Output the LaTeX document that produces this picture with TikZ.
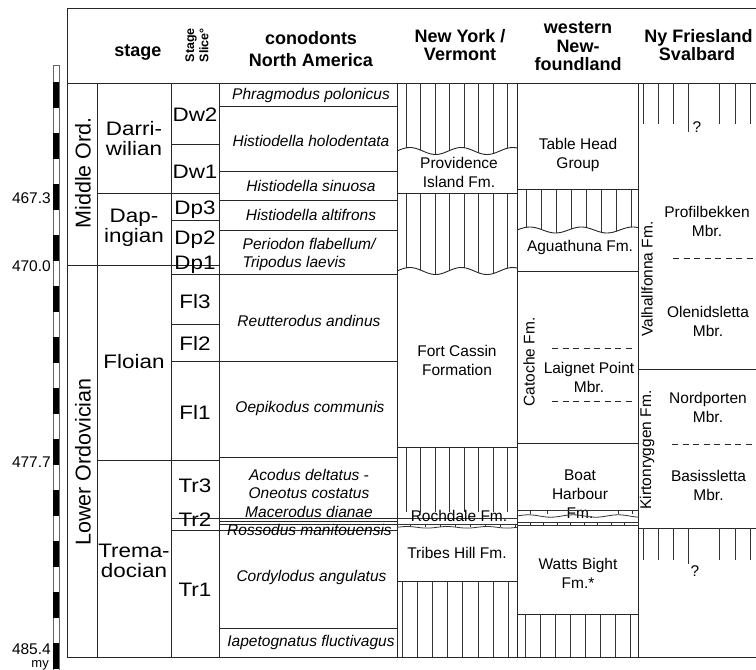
\documentclass[tikz,border=0pt]{standalone}
\usepackage{fontspec}
\setmainfont{Liberation Sans}
\newfontfamily\widefont[FakeStretch=1.15]{Liberation Sans}
\begin{document}
\begin{tikzpicture}[x=1pt,y=-1pt,
  ln/.style={line width=0.9pt, draw=black!85},
  hat/.style={line width=0.8pt, draw=black!80},
  dsh/.style={line width=0.8pt, draw=black!85, dash pattern=on 6pt off 4.5pt},
  hdr/.style={font=\bfseries\fontsize{18}{20}\selectfont, inner sep=0pt, anchor=base},
  hsl/.style={font=\bfseries\fontsize{12.5}{13}\selectfont, inner sep=0pt, rotate=90, anchor=west},
  fmt/.style={font=\fontsize{15.5}{19}\selectfont, align=center, inner sep=0pt},
  fmr/.style={font=\fontsize{15.5}{16}\selectfont, inner sep=0pt, rotate=90},
  con/.style={font=\itshape\fontsize{15.5}{18}\selectfont, align=center, inner sep=0pt},
  stg/.style={font=\widefont\fontsize{19.5}{20}\selectfont, align=center, inner sep=0pt},
  era/.style={font=\fontsize{21.5}{22}\selectfont, inner sep=0pt, rotate=90},
  age/.style={font=\fontsize{15.5}{16}\selectfont, inner sep=0pt, anchor=east},
]
\useasboundingbox (0,0) rectangle (756,670);

% ---------- scale bar ----------
\draw[line width=0.6pt, draw=black!60, fill=white] (53,65) rectangle (59,672);
\foreach \k in {0,...,11} \fill[black] (53,{82+51*\k}) rectangle (59,{107.5+51*\k});
\node[age] (a1) at (51,198.5) {467.3};
\node[age] (a2) at (51,266) {470.0};
\node[age] (a3) at (51,462.5) {477.7};
\node[age] (a4) at (51,649.5) {485.4};
\node[age, font=\fontsize{13}{13}\selectfont] (a5) at (49,665) {my};

% ---------- frame ----------
\draw[ln] (756,8) -- (67,8) -- (67,657) -- (756,657);
\draw[ln] (67,83) -- (756,83);
\foreach \xx in {97,171,219,397,517,638} \draw[ln] (\xx,83) -- (\xx,657);

% ---------- header ----------
\node[hdr] (hst) at (138,56.5) {stage};
\node[hsl] (hsl1) at (191,62.5) {Stage};
\node[hsl] (hsl2) at (204,62.5) {Slice°};
\node[hdr] (hc1) at (311,44) {conodonts};
\node[hdr] (hc2) at (311,66) {North America};
\node[hdr] (hn1) at (460,42.7) {New York /};
\node[hdr] (hn2) at (460,60.7) {Vermont};
\node[hdr] (hw1) at (578,33.3) {western};
\node[hdr] (hw2) at (578,52.5) {New-};
\node[hdr] (hw3) at (578,70) {foundland};
\node[hdr] (hs1) at (698.5,42.7) {Ny Friesland};
\node[hdr] (hs2) at (697,60.7) {Svalbard};

% ---------- era / stage / slice ----------
\draw[ln] (67,265) -- (219,265);
\draw[ln] (97,193) -- (219,193);
\draw[ln] (97,460) -- (219,460);
\draw[ln] (171,144) -- (219,144);
\draw[ln] (171,220) -- (219,220);
\draw[ln] (171,274) -- (397,274);
\draw[ln] (171,324) -- (219,324);
\draw[ln] (171,361) -- (397,361);
\draw[ln] (171,518) -- (219,518);
\draw[ln] (171,530) -- (219,530);

\node[era] (eM) at (83,173) {Middle Ord.};
\node[era] (eL) at (83,462) {Lower Ordovician};

\node[stg] (sD) at (134,139) {Darri-\\wilian};
\node[stg] (sDp) at (134,228) {Dap-\\ingian};
\node[stg] (sF) at (134,362) {Floian};
\node[stg] (sT) at (134,561) {Trema-\\docian};

\node[stg] (Dw2) at (195,115) {Dw2};
\node[stg] (Dw1) at (195,172) {Dw1};
\node[stg] (Dp3) at (195,210) {Dp3};
\node[stg] (Dp2) at (195,240) {Dp2};
\node[stg] (Dp1) at (195,265) {Dp1};
\node[stg] (Fl3) at (195,302) {Fl3};
\node[stg] (Fl2) at (195,343) {Fl2};
\node[stg] (Fl1) at (195,412) {Fl1};
\node[stg] (Tr3) at (195,486) {Tr3};
\node[stg] (Tr2) at (195,520) {Tr2};
\node[stg] (Tr1) at (195,590) {Tr1};

% ---------- conodonts ----------
\foreach \yy in {106,171,200,230,457,518,521,524,530,628} \draw[ln] (219,\yy) -- (397,\yy);
\node[con] (c1) at (311,95) {Phragmodus polonicus};
\node[con] (c2) at (311,141) {Histiodella holodentata};
\node[con] (c3) at (311,186) {Histiodella sinuosa};
\node[con] (c4) at (311,215) {Histiodella altifrons};
\node[con, align=left, anchor=west] (c5) at (242.5,254) {Periodon flabellum/\\Tripodus laevis};
\node[con] (c6) at (309,321) {Reutterodus andinus};
\node[con] (c7) at (310,408) {Oepikodus communis};
\node[con] (c8) at (309,484) {Acodus deltatus -\\Oneotus costatus};
\node[con] (c9) at (309,512) {Macerodus dianae};
\node[con] (c10) at (309.5,530) {Rossodus manitouensis};
\node[con] (c11) at (311.5,577) {Cordylodus angulatus};
\node[con] (c12) at (311,642.5) {Iapetognatus fluctivagus};

% ---------- New York / Vermont ----------
\begin{scope}
\clip (397,83) -- (517,83) -- plot[domain=517:397,samples=60] (\x,{151-3.5*sin(7*(\x-397))}) -- cycle;
\foreach \k in {0,...,7} \draw[hat] ({406+14.5*\k},83) -- ({406+14.5*\k},160);
\end{scope}
\draw[ln] plot[domain=397:517,samples=60] (\x,{151-3.5*sin(7*(\x-397))});
\node[fmt] (ny1) at (459,172) {Providence\\Island Fm.};
\draw[ln] (397,193) -- (517,193);
\begin{scope}
\clip (397,193) -- (517,193) -- plot[domain=517:397,samples=60] (\x,{271-3.5*sin(7*(\x-397))}) -- cycle;
\foreach \k in {0,...,7} \draw[hat] ({406+14.5*\k},193) -- ({406+14.5*\k},280);
\end{scope}
\draw[ln] plot[domain=397:517,samples=60] (\x,{271-3.5*sin(7*(\x-397))});
\node[fmt] (ny2) at (457,360) {Fort Cassin\\Formation};
\draw[ln] (397,447) -- (517,447);
\foreach \k in {0,...,7} \draw[hat] ({406+14.5*\k},447) -- ({406+14.5*\k},512);
\draw[hat] (397,518.5) -- (517,518.5);
\draw[hat] (397,524) -- (517,524);
\draw[hat] plot[domain=397:517,samples=40] (\x,{527.3-0.8*sin(9*(\x-397))});
\foreach \k in {0,...,7} \draw[hat] ({410+15*\k},524) -- ({410+15*\k},527);
\node[fmt] (ny3) at (459,515.5) {Rochdale Fm.};
\node[fmt] (ny4) at (457,553) {Tribes Hill Fm.};
\draw[ln] (397,581) -- (517,581);
\foreach \k in {0,...,7} \draw[hat] ({402+15.2*\k},581) -- ({402+15.2*\k},657);

% ---------- western Newfoundland ----------
\node[fmt] (nf1) at (578,155) {Table Head\\Group};
\draw[ln] (517,189) -- (638,189);
\begin{scope}
\clip (517,189) -- (638,189) -- plot[domain=638:517,samples=60] (\x,{230-3*sin(7*(\x-517))}) -- cycle;
\foreach \k in {0,...,7} \draw[hat] ({526.5+15*\k},189) -- ({526.5+15*\k},240);
\end{scope}
\draw[ln] plot[domain=517:638,samples=60] (\x,{230-3*sin(7*(\x-517))});
\node[fmt] (nf2) at (580,247) {Aguathuna Fm.};
\draw[ln] (517,271) -- (638,271);
\node[fmr] (nf3) at (529,362) {Catoche Fm.};
\draw[dsh] (552,348) -- (634,348);
\draw[dsh] (552,401) -- (634,401);
\node[fmt] (nf4) at (589,377) {Laignet Point\\Mbr.};
\draw[ln] (517,443) -- (638,443);
\node[fmt] (nf5) at (580,494) {Boat\\Harbour\\Fm.};
\draw[hat] (517,510) -- (638,510);
\draw[hat] plot[domain=517:638,samples=40] (\x,{516-1.2*sin(8*(\x-517))});
\foreach \xx in {530,547,618,632} \draw[hat] (\xx,510) -- (\xx,514);
\draw[hat] (517,522) -- (638,522);
\draw[hat] (517,525.5) -- (638,525.5);
\foreach \k in {0,...,8} \draw[hat] ({530+13.5*\k},522) -- ({530+13.5*\k},525.5);
\node[fmt] (nf6) at (578,573.5) {Watts Bight\\Fm.*};
\draw[ln] (517,614) -- (638,614);
\foreach \k in {0,...,7} \draw[hat] ({525+15*\k},614) -- ({525+15*\k},657);

% ---------- Ny Friesland Svalbard ----------
\foreach \xx in {643,658,673,719,735,750} \draw[hat] (\xx,83) -- (\xx,124);
\draw[hat] (688,83) -- (688,132);
\node[fmt] (sv0) at (697,127) {?};
\node[fmr] (sv1) at (647,279) {Valhallfonna Fm.};
\node[fmt] (sv2) at (707,221) {Profilbekken\\Mbr.};
\draw[dsh] (673,258) -- (756,258);
\node[fmt] (sv3) at (708,321.5) {Olenidsletta\\Mbr.};
\draw[ln] (638,369) -- (756,369);
\node[fmr] (sv4) at (647,450) {Kirtonryggen Fm.};
\node[fmt] (sv5) at (708,407.5) {Nordporten\\Mbr.};
\draw[dsh] (672,444) -- (756,444);
\node[fmt] (sv6) at (708.5,485) {Basissletta\\Mbr.};
\draw[ln] (638,528) -- (756,528);
\foreach \xx in {643,658,673,719,735,750} \draw[hat] (\xx,528) -- (\xx,560);
\draw[hat] (688,528) -- (688,564);
\node[fmt] (sv7) at (695,571) {?};
\end{tikzpicture}
\end{document}
